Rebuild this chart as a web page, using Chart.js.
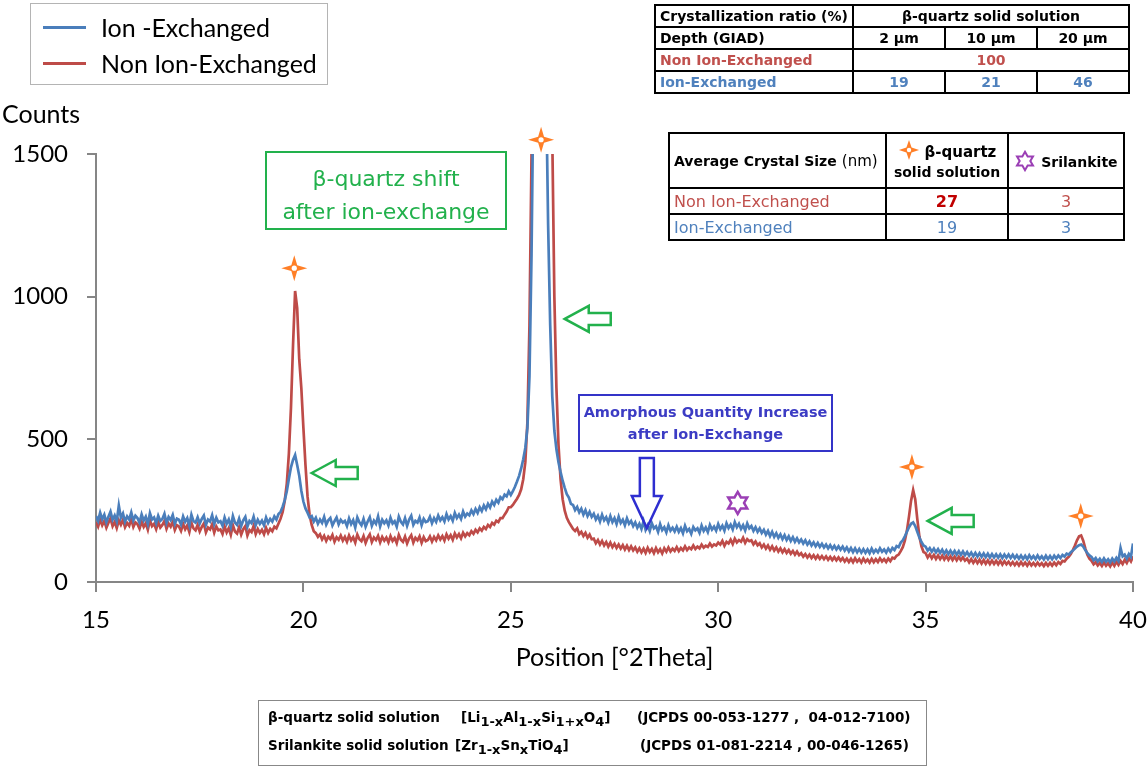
<!DOCTYPE html>
<html>
<head>
<meta charset="utf-8">
<script src="https://cdn.jsdelivr.net/npm/chart.js@4.4.1/dist/chart.umd.min.js"></script>
<style>
body { margin: 0; background: #fff; font-family: Lato, sans-serif; }
#wrap { position: relative; width: 1148px; height: 771px; overflow: hidden; }
canvas { position: absolute; left: 0; top: 0; }
.abs { position: absolute; }
#legend { left: 30px; top: 3px; width: 296px; height: 80px; border: 1.5px solid #b4b4b4; }
#legend .row { position: absolute; left: 0; height: 30px; font-size: 25px; line-height: 30px; color: #000; }
#legend .swatch { position: absolute; left: 12px; top: 14px; width: 43px; height: 3px; }
#legend .txt { position: absolute; left: 70px; white-space: nowrap; }
#counts { left: 2px; top: 98px; font-size: 25px; }
table { border-collapse: collapse; position: absolute; table-layout: fixed; font-family: "DejaVu Sans", sans-serif; }
td { border: 2px solid #000; padding: 0 4px; white-space: nowrap; overflow: hidden; }
#t1 td { font-weight: bold; font-size: 14px; height: 20px; text-align: center; }
#t1 td.lab { text-align: left; }
#t2 td { font-size: 16px; height: 24px; text-align: center; }
#t2 td.lab { text-align: left; }
.red { color: #c0504d; }
.blue { color: #4f81bd; }
#greenBox { left: 265px; top: 151px; width: 242px; height: 79px; border: 2px solid #22b14c; color: #22b14c; font-family: "DejaVu Sans", sans-serif; font-size: 22px; text-align: center; line-height: 33px; padding-top: 9px; box-sizing: border-box; }
#blueBox { left: 578px; top: 394px; width: 255px; height: 58px; border: 2.5px solid #3434c8; color: #3c3cc4; font-family: "DejaVu Sans", sans-serif; font-size: 14.5px; font-weight: bold; text-align: center; line-height: 22px; padding-top: 5px; box-sizing: border-box; white-space: nowrap; }
#refBox { left: 258px; top: 700px; width: 669px; height: 66px; border: 1.5px solid #888; box-sizing: border-box; font-family: "DejaVu Sans", sans-serif; font-size: 13.5px; font-weight: bold; }
#refBox span { position: absolute; white-space: nowrap; }
#refBox sub { font-size: 13px; vertical-align: -4px; }
</style>
</head>
<body>
<div id="wrap">
  <canvas id="myChart" width="1148" height="771"></canvas>
  <div id="legend" class="abs"></div>
  <div id="counts" class="abs">Counts</div>
  <div id="greenBox" class="abs">β-quartz shift<br>after ion-exchange</div>
  <div id="blueBox" class="abs">Amorphous Quantity Increase<br>after Ion-Exchange</div>

  <table id="t1" style="left:654px;top:4px;width:474px">
    <colgroup><col style="width:198px"><col style="width:92px"><col style="width:92px"><col style="width:92px"></colgroup>
    <tr><td class="lab">Crystallization ratio (%)</td><td colspan="3">β-quartz solid solution</td></tr>
    <tr><td class="lab">Depth (GIAD)</td><td>2 µm</td><td>10 µm</td><td>20 µm</td></tr>
    <tr><td class="lab red">Non Ion-Exchanged</td><td colspan="3" class="red">100</td></tr>
    <tr><td class="lab blue">Ion-Exchanged</td><td class="blue">19</td><td class="blue">21</td><td class="blue">46</td></tr>
  </table>

  <table id="t2" style="left:668px;top:132px;width:455px">
    <colgroup><col style="width:217px"><col style="width:122px"><col style="width:116px"></colgroup>
    <tr style="height:55px">
      <td class="lab"><b style="font-size:14px">Average Crystal Size</b> <span style="font-size:15px">(nm)</span></td>
      <td style="font-weight:bold;font-size:14px;line-height:20px;padding:0 2px">
        <svg width="22" height="22" viewBox="0 0 24 24" style="vertical-align:-4px"><path d="M12 1 L14.8 9.2 L23 12 L14.8 14.8 L12 23 L9.2 14.8 L1 12 L9.2 9.2 Z" fill="#ff7f27"/><circle cx="12" cy="12" r="2.4" fill="#fff"/></svg>&nbsp;<span style="font-size:15px">β-quartz</span><br>solid solution</td>
      <td style="font-weight:bold;font-size:14px;padding:0 2px">
        <svg width="22" height="22" viewBox="0 0 24 24" style="vertical-align:-5px"><path d="M12 2 L14.9 7 L20.7 7 L17.8 12 L20.7 17 L14.9 17 L12 22 L9.1 17 L3.3 17 L6.2 12 L3.3 7 L9.1 7 Z" fill="none" stroke="#9b3fb5" stroke-width="2.2"/></svg> Srilankite</td>
    </tr>
    <tr><td class="lab red">Non Ion-Exchanged</td><td style="color:#c00000;font-weight:bold">27</td><td class="red">3</td></tr>
    <tr><td class="lab blue">Ion-Exchanged</td><td class="blue">19</td><td class="blue">3</td></tr>
  </table>

  <div id="refBox" class="abs">
    <span style="left:9px;top:8px">β-quartz solid solution</span>
    <span style="left:202px;top:8px">[Li<sub>1-x</sub>Al<sub>1-x</sub>Si<sub>1+x</sub>O<sub>4</sub>]</span>
    <span style="left:378px;top:8px">(JCPDS 00-053-1277 ,&nbsp; 04-012-7100)</span>
    <span style="left:9px;top:36px">Srilankite solid solution</span>
    <span style="left:196px;top:36px">[Zr<sub>1-x</sub>Sn<sub>x</sub>TiO<sub>4</sub>]</span>
    <span style="left:381px;top:36px">(JCPDS 01-081-2214 , 00-046-1265)</span>
  </div>
</div>

<script>
// scan: 15 -> 40 deg 2theta, step 0.05
const scanStart = 15;
const scanStep = 0.05;

const seriesLabels = ['Ion -Exchanged', 'Non Ion-Exchanged'];
const seriesColors = ['#4a7ebb', '#be4b48'];

// counts, one row per degree (x.00 .. x.95)
const ionExchanged = [
  231,214,243,220,236,209,229,247,218,233,212,268,225,240,211,230,219,244,215,232, // 15
  224,208,237,215,229,203,241,219,226,206,232,214,221,239,207,228,217,235,204,222, // 16
  218,201,230,211,224,198,236,213,208,227,205,221,233,200,219,212,234,203,225,209, // 17
  213,197,226,204,219,193,231,208,200,222,196,216,228,194,214,206,229,199,218,204, // 18
  215,199,226,207,221,212,230,219,238,246,264,287,318,362,402,428,445,410,372,320, // 19
  282,258,243,226,231,212,225,204,219,207,228,201,216,224,198,213,226,202,218,208, // 20
  214,196,223,203,217,191,226,209,199,221,194,212,227,197,215,204,230,195,218,206, // 21
  216,198,225,205,213,194,229,211,202,224,197,219,232,200,214,208,226,199,221,210, // 22
  213,229,206,224,211,233,216,227,212,238,219,231,215,242,224,236,221,247,229,240, // 23
  234,251,238,256,242,262,249,268,255,274,261,282,270,288,278,297,290,306,300,318, // 24
  305,318,334,352,372,398,430,470,540,720,1150,1800,2600,3200,3400,3000,2400,1750,1250,900, // 25
  650,530,465,420,385,355,330,308,296,274,270,252,263,244,257,236,252,231,246,228, // 26
  239,219,232,212,236,216,227,208,231,210,224,203,229,207,218,199,223,204,214,196, // 27
  209,190,204,186,213,183,199,179,206,188,195,176,203,182,192,174,199,180,190,177, // 28
  194,176,189,171,197,178,186,169,193,181,188,172,198,179,191,175,200,184,194,180, // 29
  203,185,197,180,206,189,201,184,210,192,204,186,199,181,205,188,196,179,192,176, // 30
  188,172,183,166,179,161,176,158,171,155,167,150,164,147,160,144,157,141,153,139, // 31
  149,135,146,131,142,128,139,125,137,123,134,121,131,118,129,116,127,114,125,113, // 32
  124,110,121,107,119,105,118,104,116,103,115,102,114,101,117,103,113,104,118,106, // 33
  114,103,117,106,119,112,126,122,138,146,160,176,192,204,209,196,176,156,140,128, // 34
  124,110,119,106,117,104,115,102,113,99,111,98,110,97,109,96,108,95,107,94,       // 35
  105,92,103,90,102,89,101,88,100,87,99,86,98,86,97,85,97,84,96,85,                // 36
  96,84,95,83,94,82,93,81,92,80,94,82,91,80,93,81,90,79,92,80,                     // 37
  91,80,92,82,93,84,95,89,99,96,104,110,117,124,129,131,124,112,101,93,            // 38
  88,76,84,72,81,70,83,71,80,69,82,72,85,74,119,90,96,82,98,88,                    // 39
  135                                                                              // 40
];

const nonIonExchanged = [
  210,194,219,199,214,190,208,223,196,211,189,216,201,218,192,207,197,221,193,209, // 15
  203,187,212,193,206,183,217,196,204,185,210,191,200,214,186,205,194,211,182,199, // 16
  195,179,204,185,198,175,208,188,181,200,177,193,205,174,191,184,202,173,195,181, // 17
  184,168,195,174,189,165,199,177,170,192,166,185,196,163,182,175,197,168,186,172, // 18
  183,167,190,172,186,178,194,188,205,222,246,285,345,450,610,830,1020,960,780,680, // 19
  540,410,300,235,200,178,171,158,167,149,162,144,159,150,165,141,157,148,163,145, // 20
  158,141,163,146,157,138,166,150,143,161,137,155,167,140,156,147,162,139,158,145, // 21
  156,139,161,144,154,136,165,148,141,159,135,153,164,138,155,146,160,137,157,143, // 22
  147,160,142,158,146,163,149,161,145,167,152,164,148,170,156,168,153,173,160,171, // 23
  164,178,169,183,174,188,180,193,186,200,193,207,201,215,210,224,224,236,247,262, // 24
  262,270,281,292,305,325,360,420,560,900,1500,2300,3000,3600,3900,3800,3400,2900,2400,1950, // 25
  1560,1000,680,480,360,290,250,225,210,198,186,179,188,168,176,161,172,155,166,150, // 26
  152,136,147,131,144,128,140,124,138,122,134,119,131,117,129,114,127,112,125,111, // 27
  121,106,118,104,117,102,120,105,116,101,119,104,115,100,118,106,121,107,117,109, // 28
  122,108,119,111,125,112,121,115,128,116,124,118,131,120,127,123,135,124,132,128, // 29
  138,131,144,127,141,135,148,133,152,139,147,141,155,137,150,143,146,132,142,129, // 30
  136,121,131,117,128,113,125,110,121,107,118,104,115,102,112,99,109,96,107,94,    // 31
  101,89,98,86,96,84,94,82,93,81,91,80,90,78,88,77,87,76,86,75,                    // 32
  84,72,82,70,81,69,83,71,80,68,82,70,79,68,81,69,80,70,83,72,                     // 33
  80,70,82,73,85,82,92,96,108,122,145,180,230,285,322,290,220,160,125,105,         // 34
  101,86,97,83,95,81,93,80,92,79,91,78,90,77,89,76,88,77,87,75,                    // 35
  82,69,80,67,79,66,78,65,77,64,76,63,75,63,74,62,74,61,73,62,                     // 36
  71,60,70,59,69,58,70,59,68,57,69,58,67,57,68,58,66,56,67,57,                     // 37
  67,57,68,59,70,63,74,72,82,88,98,112,128,146,160,163,145,118,96,82,              // 38
  74,62,70,58,67,56,69,57,66,55,68,57,71,60,74,63,78,67,83,72,                     // 39
  90                                                                               // 40
];

// annotation anchors in data units [2theta, counts]
const quartzMarks = [[19.78, 1100], [25.73, 1550], [34.67, 403], [38.74, 231]];
const srilankiteMarks = [[30.47, 277]];
const shiftArrows = [[20.2, 382], [26.3, 922], [35.05, 214]];
const amorphousArrow = [28.28, 435, 189]; // x, top, tip

const twoTheta = ionExchanged.map((_, i) => +(scanStart + i * scanStep).toFixed(2));

// legend
const legendBox = document.getElementById('legend');
seriesLabels.forEach((lab, i) => {
  const row = document.createElement('div');
  row.className = 'row';
  row.style.top = (8 + i * 36) + 'px';
  row.style.width = '100%';
  row.innerHTML = `<div class="swatch" style="background:${seriesColors[i]}"></div><div class="txt">${lab}</div>`;
  legendBox.appendChild(row);
});

function sparkle(ctx, cx, cy, r) {
  const ri = r * 0.32;
  ctx.beginPath();
  for (let k = 0; k < 8; k++) {
    const a = -Math.PI / 2 + k * Math.PI / 4;
    const rr = k % 2 ? ri : r;
    ctx.lineTo(cx + rr * Math.cos(a), cy + rr * Math.sin(a));
  }
  ctx.closePath();
  ctx.fillStyle = '#ff7f27';
  ctx.fill();
  ctx.beginPath();
  ctx.arc(cx, cy, r * 0.2, 0, Math.PI * 2);
  ctx.fillStyle = '#fff';
  ctx.fill();
}

function hexagram(ctx, cx, cy, r) {
  ctx.beginPath();
  for (let k = 0; k < 12; k++) {
    const a = -Math.PI / 2 + k * Math.PI / 6;
    const rr = k % 2 ? r * 0.577 : r;
    ctx.lineTo(cx + rr * Math.cos(a), cy + rr * Math.sin(a));
  }
  ctx.closePath();
  ctx.strokeStyle = '#9b3fb5';
  ctx.lineWidth = 2.5;
  ctx.stroke();
}

function leftArrow(ctx, tx, ty) {
  ctx.beginPath();
  ctx.moveTo(tx, ty);
  ctx.lineTo(tx + 24, ty - 13);
  ctx.lineTo(tx + 24, ty - 6);
  ctx.lineTo(tx + 46, ty - 6);
  ctx.lineTo(tx + 46, ty + 6);
  ctx.lineTo(tx + 24, ty + 6);
  ctx.lineTo(tx + 24, ty + 13);
  ctx.closePath();
  ctx.strokeStyle = '#22b14c';
  ctx.lineWidth = 2.5;
  ctx.stroke();
}

function downArrow(ctx, cx, top, tip) {
  const head = tip - 32;
  ctx.beginPath();
  ctx.moveTo(cx - 7, top);
  ctx.lineTo(cx + 7, top);
  ctx.lineTo(cx + 7, head);
  ctx.lineTo(cx + 15, head);
  ctx.lineTo(cx, tip);
  ctx.lineTo(cx - 15, head);
  ctx.lineTo(cx - 7, head);
  ctx.closePath();
  ctx.strokeStyle = '#2e2ed0';
  ctx.lineWidth = 2.5;
  ctx.stroke();
}

const markerPlugin = {
  id: 'markers',
  afterDatasetsDraw(chart) {
    const { ctx, scales: { x, y } } = chart;
    ctx.save();
    quartzMarks.forEach(m => sparkle(ctx, x.getPixelForValue(m[0]), y.getPixelForValue(m[1]), 13));
    srilankiteMarks.forEach(m => hexagram(ctx, x.getPixelForValue(m[0]), y.getPixelForValue(m[1]), 11));
    shiftArrows.forEach(m => leftArrow(ctx, x.getPixelForValue(m[0]), y.getPixelForValue(m[1])));
    downArrow(ctx, x.getPixelForValue(amorphousArrow[0]), y.getPixelForValue(amorphousArrow[1]), y.getPixelForValue(amorphousArrow[2]));
    ctx.restore();
  }
};

const ctx = document.querySelector('#myChart').getContext('2d');
const axisGrey = '#868686';
myChart = new Chart(ctx, {
  type: 'line',
  data: {
    datasets: [
      {
        label: seriesLabels[0],
        data: twoTheta.map((t, i) => ({ x: t, y: ionExchanged[i] })),
        borderColor: seriesColors[0],
        borderWidth: 2.7,
        pointRadius: 0,
        tension: 0
      },
      {
        label: seriesLabels[1],
        data: twoTheta.map((t, i) => ({ x: t, y: nonIonExchanged[i] })),
        borderColor: seriesColors[1],
        borderWidth: 2.7,
        pointRadius: 0,
        tension: 0
      }
    ]
  },
  options: {
    responsive: false,
    animation: false,
    layout: { padding: { left: 0, right: 15, top: 154, bottom: 94 } },
    plugins: { legend: { display: false }, tooltip: { enabled: false } },
    scales: {
      x: {
        type: 'linear',
        min: 15,
        max: 40,
        afterFit: s => { s.height = 95; s.paddingLeft = 0; s.paddingRight = 0; },
        ticks: { stepSize: 5, color: '#000', font: { family: 'Lato', size: 24 }, padding: 14, maxRotation: 0, callback: v => v },
        grid: { drawOnChartArea: false, drawTicks: true, tickLength: 10, color: axisGrey, tickColor: axisGrey, tickWidth: 2, lineWidth: 2 },
        border: { color: axisGrey, width: 2 },
        title: { display: true, text: 'Position [°2Theta]', color: '#000', font: { family: 'Lato', size: 25 } }
      },
      y: {
        min: 0,
        max: 1500,
        afterFit: s => { s.width = 96; },
        ticks: { stepSize: 500, color: '#000', font: { family: 'Lato', size: 24 }, padding: 19, callback: v => v },
        grid: { drawOnChartArea: false, drawTicks: true, tickLength: 9, color: axisGrey, tickColor: axisGrey, tickWidth: 2, lineWidth: 2 },
        border: { color: axisGrey, width: 2 }
      }
    }
  },
  plugins: [markerPlugin]
});
</script>
</body>
</html>
